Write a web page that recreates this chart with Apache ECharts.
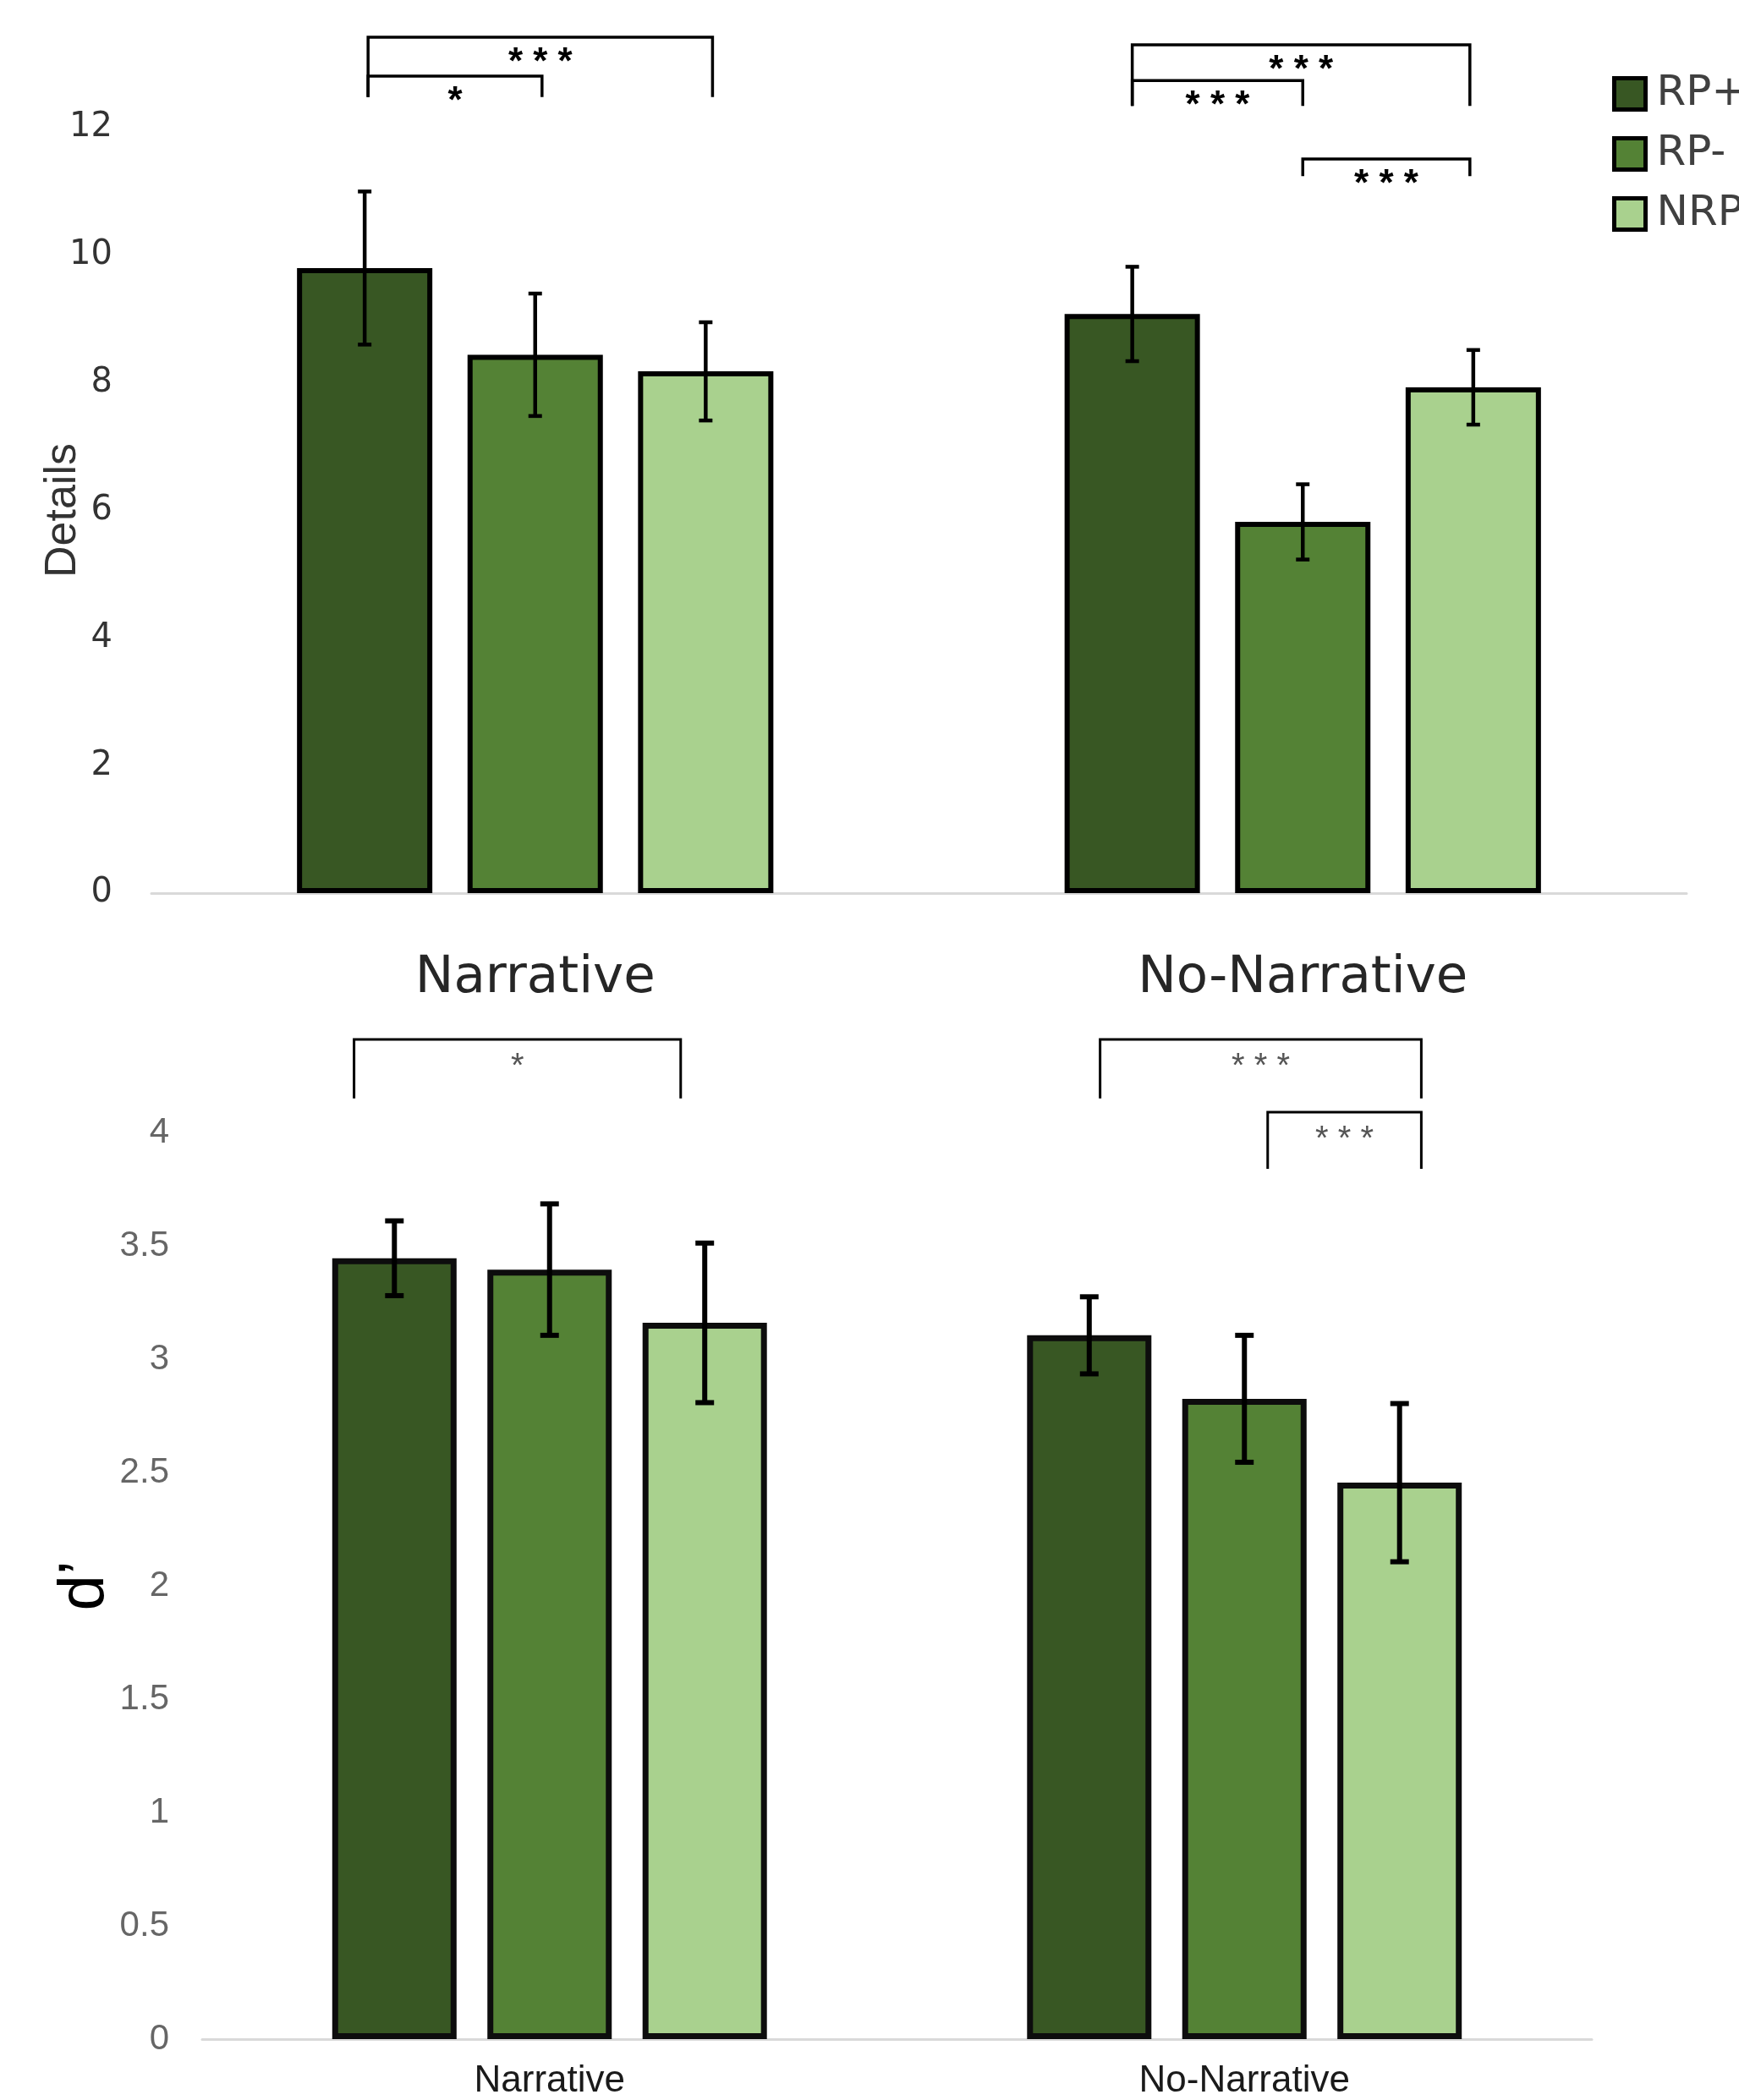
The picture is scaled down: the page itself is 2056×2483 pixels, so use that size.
<!DOCTYPE html>
<html><head><meta charset="utf-8">
<script src="https://cdn.jsdelivr.net/npm/echarts@6/dist/echarts.min.js"></script>
<style>html,body{margin:0;padding:0;background:#fff}#c{width:2056px;height:2483px}</style>
</head><body><div id="c"></div>
<script>
// ---------- data ----------
const categories = ['Narrative', 'No-Narrative'];
const groups = ['RP+', 'RP-', 'NRP'];

// Details (top chart): means and error bars per group, [Narrative, No-Narrative]
const detailsRPplus  = [9.80, 9.08];
const detailsRPminus = [8.44, 5.82];
const detailsNRP     = [8.18, 7.93];
const detailsErrRPplus  = [1.20, 0.74];
const detailsErrRPminus = [0.96, 0.59];
const detailsErrNRP     = [0.77, 0.585];
const detailsTicks = [0, 2, 4, 6, 8, 10, 12];

// d' (bottom chart)
const dprimeRPplus  = [3.445, 3.105];
const dprimeRPminus = [3.395, 2.825];
const dprimeNRP     = [3.16, 2.455];
const dprimeErrRPplus  = [0.165, 0.17];
const dprimeErrRPminus = [0.29, 0.28];
const dprimeErrNRP     = [0.352, 0.349];
const dprimeTicks = [0, 0.5, 1, 1.5, 2, 2.5, 3, 3.5, 4];

// significance comparisons: [category, label]
const detailsSig = [[0, '*'], [0, '***'], [1, '***'], [1, '***'], [1, '***']];
const dprimeSig  = [[0, '*'], [1, '***'], [1, '***']];

// ---------- layout (annotation geometry, in bar steps / axis units) ----------
const detailsBracketGeom = [[-0.98, 0.04, 12.81, 12.48], [-0.98, 1.04, 13.42, 12.48],
  [-1.0, 0.0, 12.74, 12.34], [-1.0, 0.98, 13.30, 12.34], [0.0, 0.98, 11.51, 11.24]];
const dprimeBracketGeom = [[-1.26, 0.845, 4.41, 4.15], [-0.93, 1.14, 4.41, 4.15], [0.15, 1.14, 4.09, 3.84]];

const colors = ['#385723', '#548235', '#A9D18E'];
const BAR = [{w: 160, gap: 0.26, border: 6, bc: '#000'}, {w: 147, gap: 0.248, border: 7, bc: '#0d0d0d'}];
function stepOf(i) { return BAR[i].w * (1 + BAR[i].gap); }

function barSeries(ax, name, vals, ci) {
  return {
    type: 'bar', name: name, xAxisIndex: ax, yAxisIndex: ax, data: vals,
    barWidth: BAR[ax].w, barGap: (BAR[ax].gap * 100) + '%',
    itemStyle: {color: colors[ci], borderColor: BAR[ax].bc, borderWidth: BAR[ax].border},
    emphasis: {disabled: true}
  };
}

function errorSeries(ax, means, errs, lw, capHalf) {
  const data = [];
  means.forEach((m, g) => m.forEach((v, c) => data.push([c, g, v - errs[g][c], v + errs[g][c]])));
  return {
    type: 'custom', xAxisIndex: ax, yAxisIndex: ax, z: 10, silent: true, clip: false,
    encode: {x: 0, y: [2, 3]}, data: data,
    renderItem: function (params, api) {
      const c = api.value(0), g = api.value(1);
      const x = api.coord([c, 0])[0] + (g - 1) * stepOf(ax);
      const y1 = api.coord([c, api.value(3)])[1];
      const y2 = api.coord([c, api.value(2)])[1];
      const st = () => ({stroke: '#000', lineWidth: lw});
      return {type: 'group', children: [
        {type: 'line', shape: {x1: x, y1: y1, x2: x, y2: y2}, style: st()},
        {type: 'line', shape: {x1: x - capHalf, y1: y1, x2: x + capHalf, y2: y1}, style: st()},
        {type: 'line', shape: {x1: x - capHalf, y1: y2, x2: x + capHalf, y2: y2}, style: st()}
      ]};
    }
  };
}

function bracketSeries(ax, sig, geom, lw, font, labelDy, color) {
  const data = sig.map((s, i) => [s[0], geom[i][0], geom[i][1], geom[i][2], geom[i][3]]);
  return {
    type: 'custom', xAxisIndex: ax, yAxisIndex: ax, z: 10, silent: true, clip: false,
    encode: {x: 0, y: [3, 4]}, data: data,
    renderItem: function (params, api) {
      const c = api.value(0);
      const cx = api.coord([c, 0])[0];
      const s = stepOf(ax);
      const xL = cx + api.value(1) * s, xR = cx + api.value(2) * s;
      const yT = api.coord([c, api.value(3)])[1];
      const yB = api.coord([c, api.value(4)])[1];
      const label = sig[params.dataIndex][1].split('').join(' ');
      return {type: 'group', children: [
        {type: 'polyline', shape: {points: [[xL, yB], [xL, yT], [xR, yT], [xR, yB]]},
         style: {stroke: '#000', lineWidth: lw, fill: null}},
        {type: 'text', x: (xL + xR) / 2, y: yT + labelDy,
         style: {text: label, fill: color, font: font, align: 'center', verticalAlign: 'middle',
                 textAlign: 'center', textVerticalAlign: 'middle'}}
      ]};
    }
  };
}

const chart = echarts.init(document.getElementById('c'), null, {renderer: 'canvas'});
chart.setOption({
  animation: false,
  backgroundColor: '#fff',
  legend: {
    orient: 'vertical', left: 1906, top: 86, padding: 0, data: groups,
    icon: 'rect', itemWidth: 37, itemHeight: 37, itemGap: 21,
    itemStyle: {borderColor: '#000', borderWidth: 5},
    textStyle: {fontFamily: 'DejaVu Sans', fontSize: 50, color: '#404040', lineHeight: 37, padding: [0, 0, 0, 8]},
    selectedMode: false
  },
  grid: [
    {left: 179, top: 151, width: 1815, height: 905, containLabel: false, outerBoundsMode: 'none'},
    {left: 239, top: 1339, width: 1643, height: 1072, containLabel: false, outerBoundsMode: 'none'}
  ],
  xAxis: [
    {type: 'category', gridIndex: 0, data: categories,
     axisLine: {lineStyle: {color: '#d9d9d9', width: 3}}, axisTick: {show: false},
     axisLabel: {fontFamily: 'DejaVu Sans', fontSize: 61, lineHeight: 61, color: '#262626', margin: 71}},
    {type: 'category', gridIndex: 1, data: categories,
     axisLine: {lineStyle: {color: '#d9d9d9', width: 3}}, axisTick: {show: false},
     axisLabel: {fontFamily: 'Liberation Sans', fontSize: 44, lineHeight: 44, color: '#1a1a1a', margin: 28}}
  ],
  yAxis: [
    {type: 'value', gridIndex: 0, min: detailsTicks[0], max: detailsTicks[detailsTicks.length - 1],
     interval: detailsTicks[1] - detailsTicks[0],
     axisLine: {show: false}, axisTick: {show: false}, splitLine: {show: false},
     axisLabel: {fontFamily: 'DejaVu Sans', fontSize: 40, color: '#333', margin: 46, padding: [10, 0, 0, 0]},
     name: 'Details', nameLocation: 'middle', nameRotate: 90, nameGap: 78, nameMoveOverlap: false,
     nameTextStyle: {fontFamily: 'Liberation Sans', fontSize: 52, lineHeight: 52, color: '#333'}},
    {type: 'value', gridIndex: 1, min: dprimeTicks[0], max: dprimeTicks[dprimeTicks.length - 1],
     interval: dprimeTicks[1] - dprimeTicks[0],
     axisLine: {show: false}, axisTick: {show: false}, splitLine: {show: false},
     axisLabel: {fontFamily: 'Liberation Sans', fontSize: 42, color: '#666', margin: 39, padding: [6, 0, 0, 0]},
     name: 'd\u2019', nameLocation: 'middle', nameRotate: 90, nameGap: 100, nameMoveOverlap: false,
     nameTextStyle: {fontFamily: 'Liberation Sans', fontSize: 76, lineHeight: 76, color: '#000'}}
  ],
  series: [
    barSeries(0, groups[0], detailsRPplus, 0),
    barSeries(0, groups[1], detailsRPminus, 1),
    barSeries(0, groups[2], detailsNRP, 2),
    barSeries(1, groups[0], dprimeRPplus, 0),
    barSeries(1, groups[1], dprimeRPminus, 1),
    barSeries(1, groups[2], dprimeNRP, 2),
    errorSeries(0, [detailsRPplus, detailsRPminus, detailsNRP], [detailsErrRPplus, detailsErrRPminus, detailsErrNRP], 4.5, 8),
    errorSeries(1, [dprimeRPplus, dprimeRPminus, dprimeNRP], [dprimeErrRPplus, dprimeErrRPminus, dprimeErrNRP], 6, 11),
    bracketSeries(0, detailsSig, detailsBracketGeom, 3.5, 'bold 44px "Liberation Sans"', 31, '#000'),
    bracketSeries(1, dprimeSig, dprimeBracketGeom, 3, '40px "Liberation Sans"', 33, '#555')
  ]
});
</script>
</body></html>
